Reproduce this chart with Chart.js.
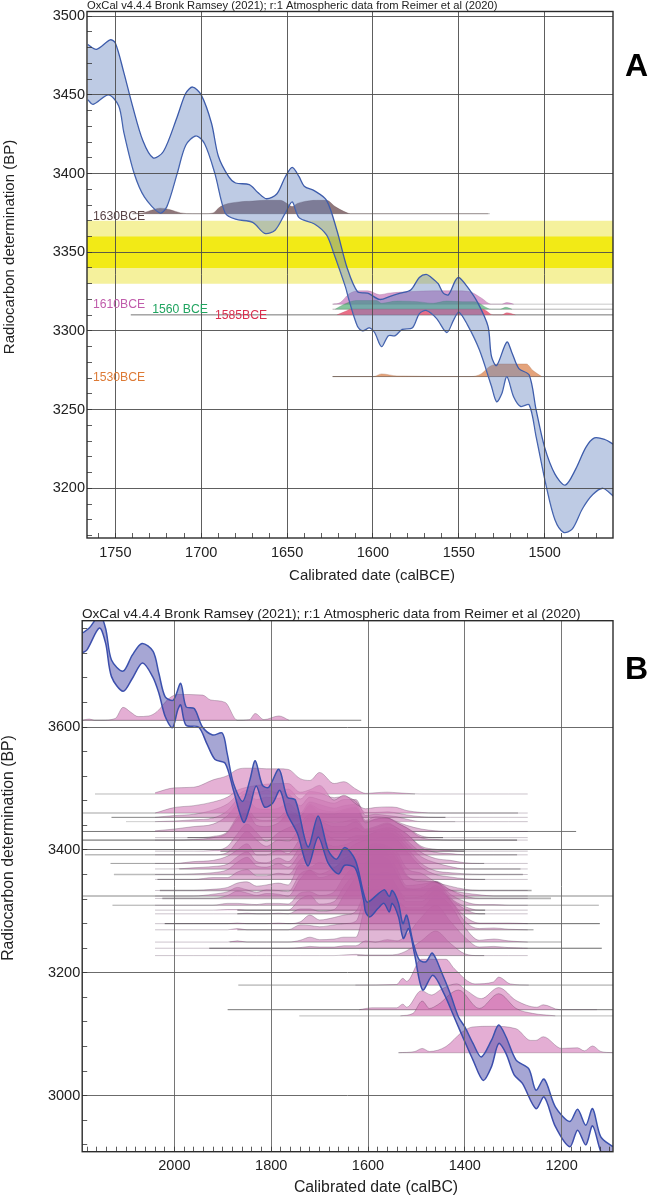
<!DOCTYPE html>
<html><head><meta charset="utf-8">
<style>html,body{margin:0;padding:0;background:#fff}canvas{position:absolute;left:0;display:block}</style>
<script src="https://cdn.jsdelivr.net/npm/chart.js@4"></script>
</head><body>
<canvas id="a" width="648" height="600" style="top:0;width:648px;height:600px"></canvas>
<canvas id="b" width="648" height="599" style="top:600px;width:648px;height:599px"></canvas>
<script>
const creditText = 'OxCal v4.4.4 Bronk Ramsey (2021); r:1 Atmospheric data from Reimer et al (2020)';
/* ---------- Panel A data ---------- */
const aUpperYears=[1766,1761,1753,1750,1745,1740,1734,1728,1722,1714,1709,1705,1700,1694,1690,1684,1680,1672,1667,1662,1656,1651,1647,1643,1640,1634,1627,1621,1615,1609,1603,1596,1590,1584,1578,1573,1569,1566,1562,1559,1556,1552,1550,1545,1539,1533,1531,1528,1522,1519,1515,1509,1505,1500,1494,1488,1482,1476,1471,1465,1460];
const aUpperBP=[3482,3479,3485,3483,3464,3443,3421,3410,3414,3436,3451,3455,3450,3432,3411,3398,3394,3393,3388,3384,3387,3398,3404,3398,3392,3389,3383,3364,3340,3325,3324,3320,3322,3324,3326,3334,3336,3334,3330,3324,3323,3332,3334,3328,3318,3303,3284,3278,3293,3286,3276,3272,3250,3226,3209,3202,3212,3226,3232,3231,3228];
const aLowerYears=[1766,1763,1754,1748,1745,1739,1733,1724,1720,1714,1709,1703,1698,1692,1686,1680,1670,1663,1657,1651,1647,1643,1634,1627,1623,1616,1614,1609,1606,1602,1599,1595,1591,1587,1583,1577,1573,1569,1563,1557,1553,1550,1545,1538,1531,1528,1525,1522,1518,1514,1509,1505,1499,1494,1489,1484,1478,1472,1466,1460];
const aLowerBP=[3447,3444,3450,3443,3426,3400,3385,3375,3379,3400,3418,3424,3419,3400,3375,3371,3369,3362,3364,3375,3382,3372,3368,3361,3350,3328,3320,3303,3300,3302,3299,3290,3297,3297,3301,3302,3311,3313,3308,3299,3307,3312,3304,3288,3265,3255,3260,3271,3258,3252,3253,3233,3201,3180,3172,3174,3187,3196,3200,3195];
const sigmaYears=[1766.5,1460.2];
const sigma2Top=[3370,3370], sigma2Bottom=[3330,3330], sigma1Top=[3360,3360], sigma1Bottom=[3340,3340];
const y1630=[1740,1734,1728,1724,1718,1712,1705,1698,1693,1690,1687,1678,1670,1663,1654,1650,1647,1644,1641,1633,1627,1622,1617,1613,1533];
const v1630=[3374.5,3375,3377,3378,3377,3375,3374.5,3374.5,3375,3378,3380,3382,3382.5,3383,3383,3381,3379,3381,3382,3383,3383,3379,3376,3374.5,3374.5];
const y1610=[1623.5,1619,1614,1608,1603,1596,1591,1577,1565,1553,1544,1537,1531,1525,1522,1518];
const v1610=[3317,3318,3323.5,3325.5,3325.5,3323,3324,3325,3325.5,3325.5,3325,3321,3317,3317,3318,3317];
const y1560=[1622,1617.5,1610,1598,1595,1586,1574,1565,1557,1548,1541,1531,1526,1522.6,1519];
const v1560=[3313.8,3316.5,3319.3,3319.3,3317.6,3319,3318.6,3317.6,3319,3318.6,3318.6,3313.8,3313.8,3315,3313.8];
const y1585=[1621,1616,1613,1536,1530,1525,1522,1517];
const v1585=[3310.2,3312.5,3313.8,3313.8,3310.2,3310.2,3311.6,3310.2];
const y1530=[1623.5,1599.5,1595,1586,1543,1537,1532,1527,1510.6,1507,1501.7];
const v1530=[3271,3271,3272.7,3271.4,3271,3272.7,3277.4,3279,3279,3275,3271];
const aBaseBP=[3374.5,3317,3313.8,3310.2,3271];
const aBaseFrom=[1740,1623.5,1623.5,1741,1623.5];
const aBaseTo=[1532,1460.2,1460.2,1460.2,1460.2];
/* ---------- Panel B data ---------- */
const bUpperYears=[2190,2176,2165,2155,2142,2130,2106,2087,2067,2044,2032,2019,2002,1987,1976,1959,1942,1921,1901,1891,1878,1859,1844,1833,1818,1805,1784,1767,1750,1724,1703,1682,1665,1648,1626,1609,1601,1567,1556,1550,1537,1528,1520,1507,1494,1480,1467,1447,1430,1413,1400,1383,1366,1345,1330,1315,1294,1268,1253,1236,1213,1183,1167,1150,1136,1119,1094];
const bUpperBP=[3753,3761,3773,3785,3760,3709,3691,3717,3736,3723,3687,3649,3644,3671,3633,3630,3600,3587,3590,3557,3508,3479,3514,3545,3505,3502,3531,3486,3481,3405,3455,3399,3385,3404,3383,3329,3315,3335,3324,3334,3313,3280,3294,3250,3221,3218,3232,3199,3166,3128,3112,3085,3063,3090,3115,3096,3058,3044,3009,3027,2982,2958,2978,2952,2979,2933,2917];
const bLowerYears=[2190,2181,2155,2142,2130,2106,2087,2066,2045,2032,2019,2004,1993,1987,1976,1950,1933,1916,1895,1878,1857,1844,1831,1814,1797,1782,1767,1746,1724,1703,1682,1661,1648,1626,1609,1605,1596,1579,1567,1556,1550,1537,1527,1516,1504,1487,1466,1443,1422,1400,1383,1362,1345,1330,1315,1298,1281,1253,1236,1213,1183,1167,1150,1136,1119,1105,1094];
const bLowerBP=[3721,3725,3761,3736,3682,3658,3679,3704,3682,3655,3617,3599,3628,3636,3603,3600,3573,3547,3541,3497,3445,3470,3504,3470,3476,3497,3459,3427,3374,3421,3378,3361,3375,3370,3318,3299,3291,3305,3313,3299,3313,3291,3256,3272,3231,3172,3196,3166,3128,3088,3058,3025,3047,3085,3069,3034,3020,2979,2998,2950,2917,2944,2920,2951,2909,2895,2890];

const topRidgeYears=[2190,2176,2165,2150,2122,2106,2090,2075,2053,2036,2012,1993,1942,1925,1895,1870,1845,1833,1815,1784,1763];
const topRidgeBP=[3611,3613,3611,3611,3614,3632,3624,3617,3618,3625,3646,3653,3652,3644,3640,3611,3612,3622,3612,3618,3611];

const ridgeYears=[2040,2000,1960,1920,1890,1870,1850,1830,1810,1785,1765,1740,1720,1700,1670,1650,1625,1605,1585,1560,1540,1520,1490,1460,1430,1400,1370,1340,1310,1270];
const ridge3491=[2,10,11,23,30,40,42,42,41,41,40,25,22,35,17,20,8,1,2,3,2,1,0,0,0,0,0,0,0,0];
const ridge3460=[0,9,12,18,26,37,42,45,47,48,48,34,38,45,21,29,15,7,9,10,9,4,1,0,0,0,0,0,0,0];
const ridge3453=[0,3,5,12,22,36,44,40,44,40,46,30,42,40,32,34,26,8,8,9,7,4,1,0,0,0,0,0,0,0];
const ridge3446=[0,1,3,6,18,36,46,36,40,38,44,26,40,36,30,36,36,10,12,10,8,4,0,0,0,0,0,0,0,0];
const ridge3430=[1,4,8,12,26,44,50,38,36,38,46,30,48,44,38,42,44,18,24,22,16,10,4,1,0,0,0,0,0,0];
const ridge3420=[0,0,0,2,10,34,46,30,28,32,44,36,54,46,42,46,50,24,30,32,24,16,3,0,0,0,0,0,0,0];
const ridge3416=[0,0,1,4,12,34,44,24,22,28,42,40,56,44,42,48,52,30,34,36,28,20,4,1,0,0,0,0,0,0];
const ridge3398=[0,0,0,1,8,28,44,30,16,30,38,46,60,52,46,48,52,36,40,46,38,28,8,3,1,0,0,0,0,0];
const ridge3392=[0,0,0,0,4,22,38,24,14,24,22,44,62,56,46,46,54,40,44,50,44,34,12,4,2,0,0,0,0,0];
const ridge3378=[0,0,3,5,12,22,32,14,14,22,16,40,54,60,50,50,58,50,54,58,54,38,18,8,5,1,0,0,0,0];
const ridge3369=[0,0,2,4,8,20,28,12,10,18,12,36,50,62,48,46,54,54,60,64,58,42,20,10,4,0,0,0,0,0];
const ridge3360=[0,0,1,3,8,20,28,14,12,18,12,34,44,56,46,48,56,62,68,68,62,44,18,6,3,1,0,0,0,0];
const ridge3352=[0,0,0,3,3,12,16,6,6,10,8,32,44,54,48,46,58,64,66,72,64,46,20,8,4,1,0,0,0,0];
const ridge3334=[0,0,0,2,5,12,14,7,9,12,9,42,38,46,38,52,60,70,76,72,62,36,28,14,7,2,0,0,0,0];
const ridge3325=[0,0,0,3,7,14,10,6,10,9,7,36,42,36,46,56,64,74,82,78,64,34,24,24,10,5,2,0,0,0];
const ridge3321=[0,0,0,0,5,12,9,5,8,7,4,32,46,34,42,54,62,78,84,80,62,36,30,26,14,4,0,0,0,0];
const ridge3310=[0,0,0,0,3,3,2,1,3,3,2,20,22,16,22,46,66,80,92,84,58,32,34,38,18,6,1,1,0,0];
const ridge3302=[0,0,0,0,1,1,0,0,0,0,0,18,24,10,14,38,62,78,88,84,58,34,36,46,20,6,0,0,0,0];
const ridge3296=[0,0,0,0,0,0,1,0,0,1,0,8,8,4,7,30,60,80,94,90,64,42,40,42,24,8,0,0,0,0];
const ridge3280=[0,0,0,0,0,1,0,0,0,1,0,3,14,6,10,14,20,56,78,84,60,42,44,62,38,12,1,1,1,0];
const ridge3270=[0,0,0,0,0,2,0,0,0,0,0,8,7,5,8,10,14,58,70,72,66,46,46,64,48,14,2,3,1,0];
const ridge3250=[0,0,0,0,0,2,0,0,0,0,0,3,8,4,5,8,8,60,74,70,68,56,56,76,60,24,3,5,2,0];
const ridge3240=[0,0,0,0,0,0,0,0,0,0,0,1,3,2,2,4,4,12,10,14,12,22,50,70,44,18,2,3,1,0];
const ridge3228=[0,0,0,0,0,0,0,0,0,0,0,0,0,0,0,1,2,1,1,1,2,8,24,40,20,3,0,0,0,0];
const ridgeBases=[3491,3460,3453,3446,3430,3420,3416,3398,3392,3378,3369,3360,3352,3334,3325,3321,3310,3302,3296,3280,3270,3250,3240,3228];
const ridgeHeights=[ridge3491,ridge3460,ridge3453,ridge3446,ridge3430,ridge3420,ridge3416,ridge3398,ridge3392,ridge3378,ridge3369,ridge3360,ridge3352,ridge3334,ridge3325,ridge3321,ridge3310,ridge3302,ridge3296,ridge3280,ridge3270,ridge3250,ridge3240,ridge3228];
const ridgeFrom=[2164,2190,2130,2100,2190,1973,2190,1905,2185,2132,1990,2125,2035,2030,2190,2025,2128,1870,1870,2020,1870,1886,1928,1622];
const ridgeTo=[1503,1290,1440,1420,1170,1445,1292,1400,1292,1360,1285,1280,1358,1262,1094,1222,1123,1358,1358,1121,1258,1200,1117,1360];

const r3180Y=[1626,1541,1528,1520,1490,1439,1422,1379,1341,1330,1306,1268];
const r3180V=[3180,3181,3191,3186,3222,3222,3207,3182,3185,3193,3182,3180];
const r3140Y=[1618,1592,1541,1528,1520,1490,1469,1447,1417,1396,1366,1330,1294,1251,1238,1204,1127];
const r3140V=[3140,3143,3143,3149,3144,3171,3164,3174,3182,3171,3158,3176,3155,3144,3148,3140,3140];
const r3130Y=[1533,1507,1488,1473,1456,1413,1370,1330,1294,1260,1213];
const r3130V=[3130,3134,3154,3142,3148,3172,3142,3166,3142,3134,3130];
const r3070Y=[1537,1503,1488,1473,1439,1405,1383,1345,1294,1264,1253,1238,1200,1167,1153,1136,1119,1094];
const r3070V=[3070,3072,3077,3072,3080,3104,3112,3113,3109,3090,3090,3096,3077,3078,3073,3081,3072,3070];
const lowBases=[3180,3140,3130,3070];
const lowFrom=[1868,1890,1742,1537];
const lowTo=[1094,1094,1094,1094];

/* ---------- helpers ---------- */
const pts=(xs,ys)=>xs.map((x,i)=>({x,y:ys[i]}));
const BLUE_A='#3d5cab', FILL_A='rgba(100,130,190,.42)';
const BLUE_B='#3b52ae', FILL_B='rgba(70,70,165,.48)';
function bandPair(xu,yu,xl,yl,stroke,fill,w){return [
 {data:pts(xu,yu),borderColor:stroke,borderWidth:w,backgroundColor:fill,fill:'+1',tension:.3,pointRadius:0},
 {data:pts(xl,yl),borderColor:stroke,borderWidth:w,fill:false,tension:.3,pointRadius:0}];}
function hill(xs,ys,base,fill,line,w){return {data:pts(xs,ys),borderColor:line,borderWidth:w,backgroundColor:fill,fill:{value:base},cubicInterpolationMode:'monotone',pointRadius:0};}
function rule(from,to,v,color,w){return {data:[{x:from,y:v},{x:to,y:v}],borderColor:color,borderWidth:w,fill:false,pointRadius:0};}
const notes={
 id:'notes',
 afterDraw(chart,args,o){
  const c=chart.ctx,ca=chart.chartArea;
  c.save();c.strokeStyle='#2b2b2b';c.lineWidth=1.4;
  c.strokeRect(ca.left,ca.top,ca.right-ca.left,ca.bottom-ca.top);
  c.textBaseline='middle';
  for(const t of o.items){
    c.save();c.font=t.font;c.fillStyle=t.color||'#222';c.textAlign=t.align||'left';
    c.translate(t.x,t.y);if(t.rot)c.rotate(t.rot);c.fillText(t.text,0,0);c.restore();
  }
  for(const t of o.dataItems||[]){
    c.font=t.font;c.fillStyle=t.color;c.textAlign='left';
    c.fillText(t.text,chart.scales.x.getPixelForValue(t.year),chart.scales.y.getPixelForValue(t.bp));
  }
  c.restore();
 }};
function makeChart(id,datasets,opt){
 const isMajorX=v=>v%opt.xMajor===0, isMajorY=v=>v%opt.yMajor===0;
 return new Chart(document.getElementById(id),{type:'line',data:{datasets},plugins:[notes],options:{
  responsive:false,animation:false,devicePixelRatio:1,normalized:false,
  layout:{padding:{top:opt.top,right:opt.right,left:0,bottom:0}},
  interaction:{mode:null},events:[],
  plugins:{legend:{display:false},tooltip:{enabled:false},title:{display:false},notes:{items:opt.items,dataItems:opt.dataItems}},
  scales:{
   x:{type:'linear',reverse:true,min:opt.xMin,max:opt.xMax,
    afterFit(s){s.height=opt.xAxisH;s.paddingLeft=s.paddingRight=s.paddingTop=s.paddingBottom=0;},
    grid:{z:1,color:c=>c.tick&&isMajorX(c.tick.value)?opt.xGrid:'rgba(0,0,0,0)',lineWidth:opt.gridW,tickColor:'#333',tickLength:-5,tickWidth:.8},
    border:{display:false},
    ticks:{stepSize:opt.xMinor,includeBounds:false,autoSkip:false,maxRotation:0,minRotation:0,padding:11,color:'#222',font:{family:'"Liberation Sans"',size:14.5},
     callback:v=>isMajorX(v)?String(v):''}},
   y:{type:'linear',min:opt.yMin,max:opt.yMax,
    afterFit(s){s.width=opt.yAxisW;s.paddingLeft=s.paddingRight=s.paddingTop=s.paddingBottom=0;},
    grid:{z:1,color:c=>c.tick&&isMajorY(c.tick.value)?opt.yGrid:'rgba(0,0,0,0)',lineWidth:opt.gridW,tickColor:'#333',tickLength:-5,tickWidth:.8},
    border:{display:false},
    ticks:{stepSize:opt.yMinor,includeBounds:false,autoSkip:false,padding:7,color:'#222',font:{family:'"Liberation Sans"',size:14.5},
     callback:v=>isMajorY(v)?String(v):''}}
  }}});
}
/* ---------- Panel A ---------- */
const LAB='12.2px "Liberation Sans"';
const aDatasets=[
 ...bandPair(aUpperYears,aUpperBP,aLowerYears,aLowerBP,BLUE_A,FILL_A,1.3),
 hill(y1630,v1630,aBaseBP[0],'rgba(90,55,60,.68)','rgba(90,60,60,.6)',.5),
 hill(y1530,v1530,aBaseBP[4],'rgba(215,120,60,.68)','rgba(150,80,40,.5)',.5),
 hill(y1585,v1585,aBaseBP[3],'rgba(226,55,90,.72)','rgba(160,40,60,.4)',.5),
 hill(y1560,v1560,aBaseBP[2],'rgba(50,160,90,.6)','rgba(40,110,70,.5)',.5),
 hill(y1610,v1610,aBaseBP[1],'rgba(190,95,175,.6)','rgba(130,60,120,.5)',.5),
 ...aBaseBP.map((b,i)=>rule(aBaseFrom[i],aBaseTo[i],b,['#aaa','#c4c4c4','#aaa','#666','#666'][i],.9)),
 {data:pts(sigmaYears,sigma1Top),borderWidth:0,borderColor:'rgba(0,0,0,0)',backgroundColor:'#f2ea16',fill:{value:3340},pointRadius:0},
 {data:pts(sigmaYears,sigma2Top),borderWidth:0,borderColor:'rgba(0,0,0,0)',backgroundColor:'#f5f19c',fill:{value:3330},pointRadius:0}
];
makeChart('a',aDatasets,{top:11.5,right:35,xAxisH:62,yAxisW:87,xMin:1460.2,xMax:1766.5,yMin:3168.4,yMax:3503,
 xMajor:50,xMinor:10,yMajor:50,yMinor:10,xGrid:'#4c4c4c',yGrid:'#4c4c4c',gridW:.9,
 items:[
  {text:creditText,x:87,y:5.5,font:'11.2px "Liberation Sans"'},
  {text:'Calibrated date (calBCE)',x:372,y:575.5,font:'15px "Liberation Sans"',align:'center'},
  {text:'Radiocarbon determination (BP)',x:10,y:247,font:'15px "Liberation Sans"',align:'center',rot:-Math.PI/2},
  {text:'A',x:625,y:67,font:'bold 32px "Liberation Sans"',color:'#000'}
 ],
 dataItems:[
  {text:'1630BCE',year:1763,bp:3372.7,font:LAB,color:'#5a4547'},
  {text:'1610BCE',year:1763,bp:3317,font:LAB,color:'#c05cab'},
  {text:'1560 BCE',year:1728.5,bp:3313.8,font:LAB,color:'#1fa45f'},
  {text:'1585BCE',year:1692,bp:3310,font:LAB,color:'#d92f4e'},
  {text:'1530BCE',year:1763,bp:3270,font:LAB,color:'#dd7a35'}
 ]});
/* ---------- Panel B ---------- */
const PINK='rgba(190,100,165,.47)', RIDGE='rgba(70,40,70,.55)';
const greys=['#999','#c2c2c2','#666','#c2c2c2','#555','#555','#333','#333','#bbb','#888','#bbb','#bbb','#777','#aaa','#888','#b5b5b5','#aaa','#444','#555','#444','#777','#c2c2c2','#444','#888'];
const widths=[.7,1.6,.8,.8,.8,.8,.8,.8,1.5,.8,1.5,1.5,.8,1.4,1,1.8,1,.8,.8,.8,.8,1.5,.8,.8];
const bDatasets=[
 ...bandPair(bUpperYears,bUpperBP,bLowerYears,bLowerBP,BLUE_B,FILL_B,1.5),
 hill(r3070Y,r3070V,lowBases[3],'rgba(212,125,185,.62)',RIDGE,.5),
 hill(r3130Y,r3130V,lowBases[2],'rgba(205,100,170,.55)',RIDGE,.5),
 hill(r3140Y,r3140V,lowBases[1],'rgba(212,125,185,.6)',RIDGE,.5),
 hill(r3180Y,r3180V,lowBases[0],'rgba(212,125,185,.62)',RIDGE,.5),
 ...ridgeBases.map((b,i)=>hill(ridgeYears,ridgeHeights[i].map(h=>b+h),b,i<2?'rgba(212,125,185,.6)':PINK,RIDGE,.5)),
 hill(topRidgeYears,topRidgeBP,3611,'rgba(212,125,185,.62)',RIDGE,.5),
 ...ridgeBases.map((b,i)=>rule(ridgeFrom[i],ridgeTo[i],b,greys[i],widths[i])),
 ...lowBases.map((b,i)=>rule(lowFrom[i],lowTo[i],b,['#c8c8c8','#555','#c8c8c8','#999'][i],[1.6,.8,1.4,.7][i])),
 rule(2190,1614,3611,'#555',.8)
];
makeChart('b',bDatasets,{top:20.7,right:35,xAxisH:47.3,yAxisW:82.2,xMin:1093.8,xMax:2190.5,yMin:2908.9,yMax:3773,
 xMajor:200,xMinor:20,yMajor:200,yMinor:40,xGrid:'#666',yGrid:'#5a5a5a',gridW:.9,
 items:[
  {text:creditText,x:82,y:14.5,font:'13.6px "Liberation Sans"'},
  {text:'Calibrated date (calBC)',x:376,y:588,font:'15.8px "Liberation Sans"',align:'center'},
  {text:'Radiocarbon determination (BP)',x:9,y:248,font:'15.8px "Liberation Sans"',align:'center',rot:-Math.PI/2},
  {text:'B',x:625,y:70,font:'bold 32px "Liberation Sans"',color:'#000'}
 ]});
</script>
</body></html>
